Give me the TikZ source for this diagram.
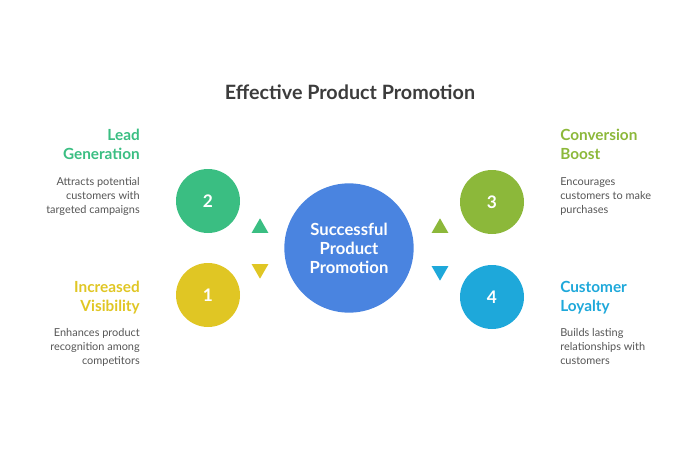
\documentclass[tikz,border=0pt]{standalone}
\usepackage{fontspec}
\setmainfont{Lato}
\usepackage{xcolor}
\usepackage{tikz}
\usetikzlibrary{shapes.geometric}
\definecolor{centerblue}{RGB}{74,132,224}
\definecolor{leadgreen}{RGB}{58,190,130}
\definecolor{visyellow}{RGB}{224,198,36}
\definecolor{boostolive}{RGB}{140,184,58}
\definecolor{loyalblue}{RGB}{30,168,218}
\definecolor{titlegray}{RGB}{60,60,60}
\definecolor{descgray}{RGB}{85,85,85}

\begin{document}
\begin{tikzpicture}[x=0.75pt,y=-0.75pt,
    stepcircle/.style={circle, minimum size=48pt, inner sep=0pt, text=white,
        font=\fontsize{13}{13}\selectfont\bfseries},
    headtext/.style={inner sep=0pt, font=\fontsize{11.5}{14.25}\selectfont\bfseries},
    desctext/.style={inner sep=0pt, text=descgray, font=\fontsize{8.2}{10.5}\selectfont},
    arrowtri/.style={regular polygon, regular polygon sides=3, minimum size=14.5pt,
        inner sep=0pt}
]
\useasboundingbox (0,0) rectangle (700,450);

% title
\node[inner sep=0pt, text=titlegray, font=\fontsize{14.8}{14.8}\selectfont\bfseries]
    (title) at (350,92) {Effective Product Promotion};

% centre
\node[circle, fill=centerblue, minimum size=97pt, inner sep=0pt, text=white,
    align=center, font=\fontsize{12.5}{14.25}\selectfont\bfseries]
    (hub) at (349,248) {Successful\\Product\\Promotion};

% numbered circles
\node[stepcircle, fill=visyellow] (one) at (208,295) {1};
\node[stepcircle, fill=leadgreen] (two) at (208,201) {2};
\node[stepcircle, fill=boostolive] (three) at (492,202) {3};
\node[stepcircle, fill=loyalblue] (four) at (492,297) {4};

% small triangles
\node[arrowtri, fill=leadgreen] (triTwo) at (260,228) {};
\node[arrowtri, fill=visyellow, shape border rotate=180] (triOne) at (260,269) {};
\node[arrowtri, fill=boostolive] (triThree) at (440,228) {};
\node[arrowtri, fill=loyalblue, shape border rotate=180] (triFour) at (440,271) {};

% left labels
\node[headtext, text=leadgreen, anchor=north east, align=right]
    (leadHead) at (140,129) {Lead\\Generation};
\node[desctext, anchor=north east, align=right]
    (leadDesc) at (140,177) {Attracts potential\\customers with\\targeted campaigns};
\node[headtext, text=visyellow, anchor=north east, align=right]
    (visHead) at (140,281) {Increased\\Visibility};
\node[desctext, anchor=north east, align=right]
    (visDesc) at (140,328) {Enhances product\\recognition among\\competitors};

% right labels
\node[headtext, text=boostolive, anchor=north west, align=left]
    (boostHead) at (560,129) {Conversion\\Boost};
\node[desctext, anchor=north west, align=left]
    (boostDesc) at (560,177) {Encourages\\customers to make\\purchases};
\node[headtext, text=loyalblue, anchor=north west, align=left]
    (loyalHead) at (560,281) {Customer\\Loyalty};
\node[desctext, anchor=north west, align=left]
    (loyalDesc) at (560,328) {Builds lasting\\relationships with\\customers};

\end{tikzpicture}
\end{document}
